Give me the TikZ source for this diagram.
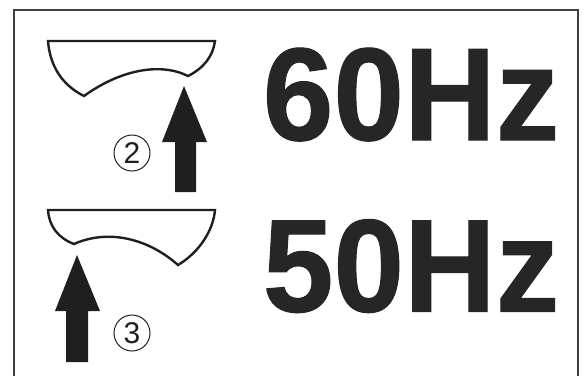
\documentclass[tikz,border=0pt]{standalone}
\usepackage{fontspec}
\setmainfont{Liberation Sans}
\newfontfamily\heavyfont[UprightFont=* Bold,FakeBold=0.8]{Liberation Sans}
\begin{document}
\begin{tikzpicture}[x=1pt,y=-1pt,
 frame/.style={draw=black!75,line width=2pt},
 lever/.style={draw=black!88,line width=2.4pt,line join=miter},
 bigtxt/.style={inner sep=0pt,font=\heavyfont\fontsize{127}{127}\selectfont,text=black!85,anchor=base east},
 numtxt/.style={inner sep=0pt,font=\fontsize{30}{30}\selectfont,text=black!88},
 ringstyle/.style={draw=black!88,line width=1pt,circle,minimum size=36pt,inner sep=0pt},
 arrowshape/.style={fill=black!88}]
\useasboundingbox (0,0) rectangle (584,376);
\draw[frame] (14,376) -- (14,10) -- (577.5,10) -- (577.5,376);
\draw[lever] (48,41) -- (215,41) .. controls (213,56) and (204,68) .. (188,76) .. controls (160,62) and (120,70) .. (84,96) .. controls (62,85) and (50,66) .. (48,41) -- cycle;
\draw[lever] (48,210) -- (215,210) .. controls (213,232) and (198,253) .. (178,265) .. controls (150,240) and (110,228) .. (74,244) .. controls (58,238) and (49,226) .. (48,210) -- cycle;
\fill[arrowshape] (175,192) -- (175,142) -- (162,142) -- (184,86) -- (207,142) -- (196,142) -- (196,192) -- cycle;
\fill[arrowshape] (66,362) -- (66,311) -- (55,311) -- (77,255) -- (100,311) -- (88,311) -- (88,362) -- cycle;
\node[ringstyle] (r2) at (132,153) {};
\node[ringstyle] (r3) at (132,333) {};
\node[numtxt] (n2) at (132,153) {2};
\node[numtxt] (n3) at (132,333) {3};
\node[bigtxt] (t1) at (559.5,140) {\scalebox{1}[1.04]{60Hz}};
\node[bigtxt] (t2) at (559.5,311.5) {\scalebox{1}[1.04]{50Hz}};
\end{tikzpicture}
\end{document}
